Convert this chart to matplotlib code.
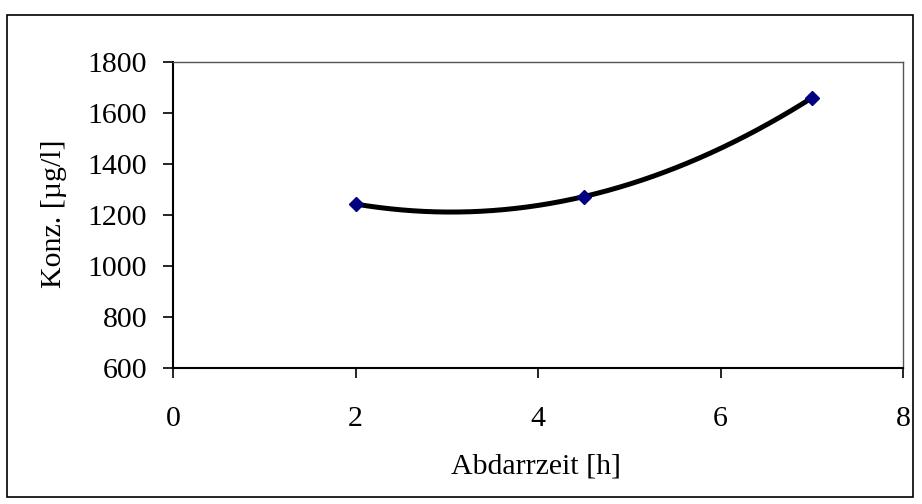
import numpy as np
import matplotlib
matplotlib.use("Agg")
import matplotlib.pyplot as plt
from matplotlib.patches import Rectangle

x_vals = [2.0, 4.5, 7.0]
y_vals = [1243, 1272, 1659]
x_ticks = [0, 2, 4, 6, 8]
y_ticks = [600, 800, 1000, 1200, 1400, 1600, 1800]
x_label = "Abdarrzeit [h]"
y_label = "Konz. [µg/l]"

plt.rcParams['font.family'] = ['Liberation Serif', 'DejaVu Serif']
FS = 21.5

fig = plt.figure(figsize=(9.22, 5.04), dpi=100)
ax = fig.add_axes([173/922, 1-368/504, (903-173)/922, (368-62)/504])

# outer frame
fig.patches.append(Rectangle((7/922, 1-497/504), (913-7)/922, (497-15)/504,
                             transform=fig.transFigure, fill=False,
                             edgecolor='black', linewidth=1.2))

coef = np.polyfit(x_vals, y_vals, 2)
xs = np.linspace(min(x_vals), max(x_vals), 200)
ax.plot(xs, np.polyval(coef, xs), color='black', linewidth=3.6, zorder=2,
        solid_capstyle='round')
ax.plot(x_vals, y_vals, linestyle='none', marker='D', markersize=7.2,
        color='#000080', zorder=3)

ax.set_xlim(0, 8)
ax.set_ylim(600, 1800)
ax.set_xticks(x_ticks)
ax.set_yticks(y_ticks)
ax.tick_params(axis='both', labelsize=FS, direction='out', length=7.5,
               width=1.2, color='black')
ax.tick_params(axis='y', pad=11)
ax.tick_params(axis='x', pad=19.5)

for s in ['left', 'bottom']:
    ax.spines[s].set_color('black')
    ax.spines[s].set_linewidth(1.5)
for s in ['top', 'right']:
    ax.spines[s].set_color('#555555')
    ax.spines[s].set_linewidth(1.0)

fig.text(536/922, 1-467/504, x_label, fontsize=FS, ha='center', va='center')
fig.text(54/922, 1-214/504, y_label, fontsize=FS, ha='center', va='center',
         rotation=90)

fig.savefig("out.png", dpi=100)
